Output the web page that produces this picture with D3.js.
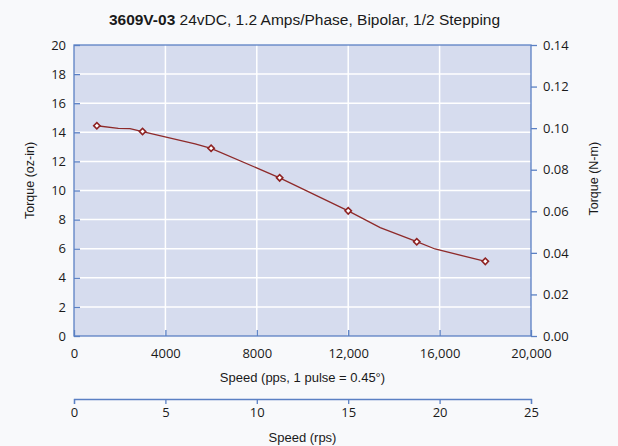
<!DOCTYPE html>
<html>
<head>
<meta charset="utf-8">
<script src="https://cdn.jsdelivr.net/npm/d3@7"></script>
<style>
  html, body { margin: 0; padding: 0; background: #f8f9fb; }
  svg { display: block; }
  .tick text { font-family: "Open Sans", "Noto Sans", sans-serif; font-size: 13px; fill: #1a1a1a; }
  .ttl { font-family: "Liberation Sans Narrow", "Arial Narrow", "Liberation Sans", sans-serif; fill: #1a1a1a; }
</style>
</head>
<body>
<div id="chart"></div>
<script>
// measured curve (speed pps, torque oz-in)
var curveSpeed  = [1000, 1940, 2450, 3000, 5300, 6000, 9000, 12000, 13400, 15000, 15800, 18000];
var curveTorque = [14.45, 14.27, 14.25, 14.05, 13.2, 12.9, 10.87, 8.6, 7.45, 6.48, 5.98, 5.13];

// marked data points
var markSpeed  = [1000, 3000, 6000, 9000, 12000, 15000, 18000];
var markTorque = [14.45, 14.05, 12.9, 10.87, 8.6, 6.48, 5.13];

var xTicks = [0, 4000, 8000, 12000, 16000, 20000];
var xTickLabels = ["0", "4000", "8000", "12,000", "16,000", "20,000"];
var yTicks = [0, 2, 4, 6, 8, 10, 12, 14, 16, 18, 20];
var nmTicks = [0, 0.02, 0.04, 0.06, 0.08, 0.10, 0.12, 0.14];
var rpsTicks = [0, 5, 10, 15, 20, 25];

var W = 618, H = 446;
var pL = 74, pR = 531, pT = 45, pB = 336;
var blue = "#5b80c4";

var svg = d3.select("#chart").append("svg")
    .attr("width", W)
    .attr("height", H);

var x = d3.scaleLinear().domain([0, 20000]).range([pL, pR]);
var y = d3.scaleLinear().domain([0, 20]).range([pB, pT]);
var yNm = d3.scaleLinear().domain([0, 0.14]).range([pB, pT]);
var xRps = d3.scaleLinear().domain([0, 25]).range([pL, pR]);

// plot background
svg.append("rect")
    .attr("x", pL).attr("y", pT)
    .attr("width", pR - pL).attr("height", pB - pT)
    .attr("fill", "#d6dcee");

// grid
svg.append("g").selectAll("line")
    .data(yTicks.slice(1, -1))
    .enter().append("line")
    .attr("x1", pL).attr("x2", pR)
    .attr("y1", function(d) { return y(d); })
    .attr("y2", function(d) { return y(d); })
    .attr("stroke", "#fff").attr("stroke-width", 1.5);

svg.append("g").selectAll("line")
    .data(xTicks.slice(1, -1))
    .enter().append("line")
    .attr("y1", pT).attr("y2", pB)
    .attr("x1", function(d) { return x(d); })
    .attr("x2", function(d) { return x(d); })
    .attr("stroke", "#fff").attr("stroke-width", 1.5);

// axes
function styleAxis(g) {
    g.selectAll(".domain").remove();
    g.selectAll(".tick line").attr("stroke", blue).attr("stroke-width", 1.3);
}

svg.append("g")
    .attr("transform", "translate(0," + pB + ")")
    .call(d3.axisBottom(x).tickValues(xTicks).tickSize(-6).tickPadding(13)
        .tickFormat(function(d, i) { return xTickLabels[i]; }))
    .call(styleAxis);

svg.append("g")
    .attr("transform", "translate(" + pL + ",0)")
    .call(d3.axisLeft(y).tickValues(yTicks).tickSize(-6).tickPadding(8))
    .call(styleAxis);

svg.append("g")
    .attr("transform", "translate(" + pR + ",0)")
    .call(d3.axisRight(yNm).tickValues(nmTicks).tickSize(6).tickPadding(6)
        .tickFormat(d3.format(".2f")))
    .call(styleAxis);

// frame
svg.append("rect")
    .attr("x", pL).attr("y", pT)
    .attr("width", pR - pL).attr("height", pB - pT)
    .attr("fill", "none")
    .attr("stroke", blue).attr("stroke-width", 1.3);

// rps axis
var rpsG = svg.append("g")
    .attr("transform", "translate(0,399)")
    .call(d3.axisBottom(xRps).tickValues(rpsTicks).tickSize(5).tickSizeOuter(5).tickPadding(4));
rpsG.select(".domain").attr("stroke", blue).attr("stroke-width", 1.3);
rpsG.selectAll(".tick line").attr("stroke", blue).attr("stroke-width", 1.3);

// curve
var pts = curveSpeed.map(function(s, i) { return [s, curveTorque[i]]; });
svg.append("path")
    .datum(pts)
    .attr("fill", "none")
    .attr("stroke", "#8e2a2a")
    .attr("stroke-width", 1.3)
    .attr("d", d3.line()
        .x(function(d) { return x(d[0]); })
        .y(function(d) { return y(d[1]); }));

// markers
var sq = d3.symbol().type(d3.symbolSquare).size(20);
svg.append("g").selectAll("path")
    .data(markSpeed.map(function(s, i) { return [s, markTorque[i]]; }))
    .enter().append("path")
    .attr("d", sq)
    .attr("transform", function(d) {
        return "translate(" + x(d[0]) + "," + y(d[1]) + ") rotate(45)";
    })
    .attr("fill", "#fff")
    .attr("stroke", "#8e2222")
    .attr("stroke-width", 1.6);

// titles
var title = svg.append("text")
    .attr("class", "ttl")
    .attr("x", 304.5).attr("y", 24.5)
    .attr("text-anchor", "middle")
    .style("font-size", "15.5px");
title.append("tspan").attr("font-weight", "bold").text("3609V-03");
title.append("tspan").text(" 24vDC, 1.2 Amps/Phase, Bipolar, 1/2 Stepping");

svg.append("text")
    .attr("class", "ttl")
    .attr("x", (pL + pR) / 2).attr("y", 382)
    .attr("text-anchor", "middle")
    .style("font-size", "13px")
    .text("Speed (pps, 1 pulse = 0.45°)");

svg.append("text")
    .attr("class", "ttl")
    .attr("x", (pL + pR) / 2).attr("y", 442)
    .attr("text-anchor", "middle")
    .style("font-size", "13px")
    .text("Speed (rps)");

svg.append("text")
    .attr("class", "ttl")
    .attr("transform", "translate(33.5,180.5) rotate(-90)")
    .attr("text-anchor", "middle")
    .style("font-size", "12.5px")
    .text("Torque (oz-in)");

svg.append("text")
    .attr("class", "ttl")
    .attr("transform", "translate(597.5,178.7) rotate(-90)")
    .attr("text-anchor", "middle")
    .style("font-size", "12.5px")
    .text("Torque (N-m)");
</script>
</body>
</html>
